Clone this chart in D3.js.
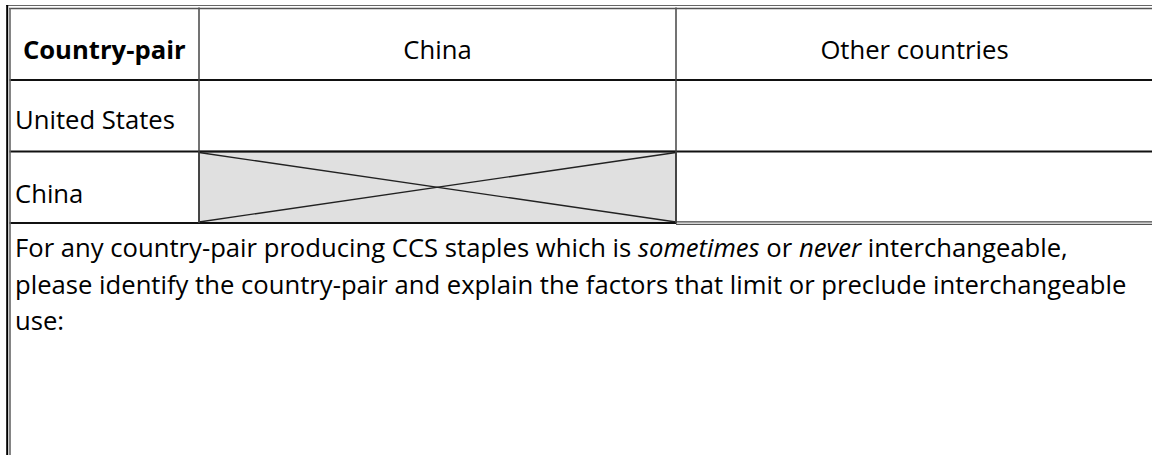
<!DOCTYPE html>
<html><head><meta charset="utf-8">
<script src="https://cdn.jsdelivr.net/npm/d3@7"></script>
<style>html,body{margin:0;padding:0;background:#fff;overflow:hidden}</style>
</head><body><svg id="c" width="1152" height="455"></svg>
<script>
// ---- content ----
const columns = ["Country-pair", "China", "Other countries"];
const rows = ["United States", "China"];
const blockedCells = [["China", "China"]]; // [row, column]
const questionLine1 = ["For any country-pair producing CCS staples which is ", "sometimes", " or ", "never", " interchangeable,"];
const questionLine1Italic = [false, true, false, true, false];
const questionLine2 = ["please identify the country-pair and explain the factors that limit or preclude interchangeable"];
const questionLine3 = ["use:"];

// ---- layout ----
const W = 1152, H = 455;
const colEdges = [9.5, 199, 676, 1153];
const rowKeys = ["header"].concat(rows).concat(["question"]);
const rowEdges = [7.5, 80, 151.5, 223, 470];
const FONT = "'Open Sans', 'DejaVu Sans', sans-serif";

const svg = d3.select("#c");
const x = d3.scaleOrdinal().domain(columns).range(colEdges.slice(0, 3));
const xr = d3.scaleOrdinal().domain(columns).range(colEdges.slice(1, 4));
const y = d3.scaleOrdinal().domain(rowKeys).range(rowEdges.slice(0, 4));
const yb = d3.scaleOrdinal().domain(rowKeys).range(rowEdges.slice(1, 5));

// calibrate font size so the long question line matches the reference width
const probe = svg.append("text").attr("font-family", FONT).attr("font-size", 100).text(questionLine2[0]);
const w100 = probe.node().getComputedTextLength();
probe.remove();
const fs = Math.max(18, Math.min(32, 100 * 1112 / w100));

// shaded (not applicable) cells
const blocked = svg.append("g");
blockedCells.forEach(([r, c]) => {
  const x0 = x(c), x1 = xr(c), y0 = y(r), y1 = yb(r);
  blocked.append("rect").attr("x", x0).attr("y", y0).attr("width", x1 - x0).attr("height", y1 - y0)
    .attr("fill", "#e0e0e0").attr("stroke", "#111").attr("stroke-width", 1.5);
  blocked.append("line").attr("x1", x0).attr("y1", y0 + 1).attr("x2", x1).attr("y2", y1 - 1)
    .attr("stroke", "#222").attr("stroke-width", 1.3);
  blocked.append("line").attr("x1", x0).attr("y1", y1 - 1).attr("x2", x1).attr("y2", y0 + 1)
    .attr("stroke", "#222").attr("stroke-width", 1.3);
});

// grid lines
const grid = svg.append("g").attr("fill", "none");
// horizontal row separators
rows.forEach(r => {
  grid.append("line").attr("x1", colEdges[0]).attr("x2", W).attr("y1", y(r)).attr("y2", y(r))
    .attr("stroke", "#111").attr("stroke-width", 2);
});
grid.append("line").attr("x1", colEdges[0]).attr("x2", xr(columns[1])).attr("y1", y("question")).attr("y2", y("question"))
  .attr("stroke", "#111").attr("stroke-width", 2.2);
// double line under last column of last row
grid.append("line").attr("x1", x(columns[2])).attr("x2", W).attr("y1", y("question") - 1.2).attr("y2", y("question") - 1.2)
  .attr("stroke", "#444").attr("stroke-width", 1.2);
grid.append("line").attr("x1", x(columns[2])).attr("x2", W).attr("y1", y("question") + 1.3).attr("y2", y("question") + 1.3)
  .attr("stroke", "#555").attr("stroke-width", 1.2);
// vertical column separators
columns.slice(1).forEach(c => {
  grid.append("line").attr("x1", x(c)).attr("x2", x(c)).attr("y1", rowEdges[0]).attr("y2", y("question"))
    .attr("stroke", "#444").attr("stroke-width", 1.5);
});
// outer double border: top and left
grid.append("line").attr("x1", 6).attr("x2", W).attr("y1", 5.5).attr("y2", 5.5).attr("stroke", "#666").attr("stroke-width", 1.2);
grid.append("line").attr("x1", 9).attr("x2", W).attr("y1", 8.5).attr("y2", 8.5).attr("stroke", "#555").attr("stroke-width", 1.6);
grid.append("line").attr("x1", 7.2).attr("x2", 7.2).attr("y1", 5).attr("y2", H).attr("stroke", "#000").attr("stroke-width", 2);
grid.append("line").attr("x1", 10).attr("x2", 10).attr("y1", 8).attr("y2", H).attr("stroke", "#666").attr("stroke-width", 1.6);

// texts
const txt = svg.append("g").attr("font-family", FONT).attr("font-size", fs).attr("fill", "#000");
// header
txt.selectAll("text.head").data(columns).join("text").attr("class", "head")
  .attr("x", d => (x(d) + xr(d)) / 2 + (d === columns[0] ? 0 : 0))
  .attr("y", 59)
  .attr("text-anchor", "middle")
  .attr("font-weight", (d, i) => i === 0 ? 700 : 400)
  .text(d => d);
// row labels
const rowBase = { "United States": 129, "China": 203 };
txt.selectAll("text.rowlab").data(rows).join("text").attr("class", "rowlab")
  .attr("x", 15)
  .attr("y", d => rowBase[d])
  .text(d => d);
// question
const qLines = [
  questionLine1.map((t, i) => ({ t, it: questionLine1Italic[i] })),
  questionLine2.map(t => ({ t, it: false })),
  questionLine3.map(t => ({ t, it: false }))
];
const qBase = [257, 293.5, 330];
qLines.forEach((segs, li) => {
  const t = txt.append("text").attr("x", 15).attr("y", qBase[li]).attr("xml:space", "preserve");
  segs.forEach(s => {
    t.append("tspan").attr("font-style", s.it ? "italic" : "normal").text(s.t);
  });
});
</script>
</body></html>
